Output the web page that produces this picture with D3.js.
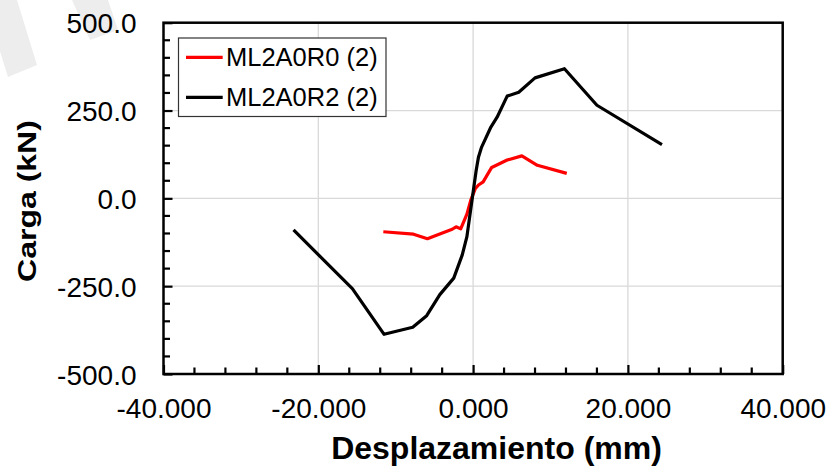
<!DOCTYPE html>
<html>
<head>
<meta charset="utf-8">
<script src="https://cdn.jsdelivr.net/npm/d3@7"></script>
<style>
  html, body { margin: 0; padding: 0; background: #fff; }
  svg { display: block; font-family: "Liberation Sans", Arial, sans-serif; }
</style>
</head>
<body>
<svg id="chart" width="831" height="466"></svg>
<script>
// Load–displacement curves (displacement in mm, load in kN)
const seriesNames = ["ML2A0R0 (2)", "ML2A0R2 (2)"];
const seriesColors = ["#ff0000", "#000000"];

const r0Disp = [-11.6, -7.7, -5.9, -3.8, -2.7, -2.2, -1.6, -0.8, -0.3, 0.3, 0.7, 1.3, 2.4, 4.4, 6.3, 8.3, 12.1];
const r0Load = [-95, -102, -115, -97, -88, -81, -87, -45, -5, 28, 38, 47, 88, 109, 121, 94, 71];

const r2Disp = [-23.2, -15.6, -11.5, -7.8, -6.0, -4.3, -2.5, -1.4, -0.8, 0.4, 0.7, 1.1, 2.3, 3.1, 4.4, 5.9, 8.0, 11.8, 16.0, 24.4];
const r2Load = [-90, -257, -387, -367, -334, -274, -227, -161, -109, 80, 118, 146, 203, 231, 291, 302, 343, 369, 265, 153];

const xTickValues = [-40, -20, 0, 20, 40];
const yTickValues = [-500, -250, 0, 250, 500];
const xMinorStep = 4;
const yMinorStep = 50;

const xTitle = "Desplazamiento (mm)";
const yTitle = "Carga (kN)";

const svg = d3.select("#chart");
const plot = { left: 163.5, right: 782.7, top: 22.7, bottom: 374 };

const x = d3.scaleLinear().domain([-40, 40]).range([plot.left, plot.right]);
const y = d3.scaleLinear().domain([-500, 500]).range([plot.bottom, plot.top]);

// faint background stripes
const stripes = [
  [[-16, 0], [17, 0], [37, 65], [8, 77]],
  [[72, 0], [108, 0], [118, 30], [90, 40]]
];
svg.append("g").selectAll("polygon").data(stripes).join("polygon")
  .attr("points", d => d.map(p => p.join(",")).join(" "))
  .attr("fill", "#ededed");

// gridlines
const grid = svg.append("g").attr("stroke", "#d9d9d9").attr("stroke-width", 1.3);
grid.selectAll("line.v").data(xTickValues.slice(1, -1)).join("line")
  .attr("x1", d => x(d)).attr("x2", d => x(d))
  .attr("y1", plot.top).attr("y2", plot.bottom);
grid.selectAll("line.h").data(yTickValues.slice(1, -1)).join("line")
  .attr("x1", plot.left).attr("x2", plot.right)
  .attr("y1", d => y(d)).attr("y2", d => y(d));

// data lines
const series = [
  { name: seriesNames[0], color: seriesColors[0], pts: r0Disp.map((d, i) => [d, r0Load[i]]) },
  { name: seriesNames[1], color: seriesColors[1], pts: r2Disp.map((d, i) => [d, r2Load[i]]) }
];
const line = d3.line().x(d => x(d[0])).y(d => y(d[1]));
svg.append("g").selectAll("path").data(series).join("path")
  .attr("d", d => line(d.pts))
  .attr("fill", "none")
  .attr("stroke", d => d.color)
  .attr("stroke-width", 3.2)
  .attr("stroke-linejoin", "round");

// axes with inward ticks
const xMinor = d3.range(-40, 40.001, xMinorStep).filter(v => v % 20 !== 0);
const yMinor = d3.range(-500, 500.001, yMinorStep).filter(v => v % 250 !== 0);

const xAxis = d3.axisBottom(x).tickValues(xTickValues).tickSize(-9).tickPadding(0)
  .tickFormat(d3.format(".3f"));
const xAxisG = svg.append("g").attr("transform", `translate(0,${plot.bottom})`).call(xAxis);
xAxisG.select(".domain").remove();
xAxisG.selectAll(".tick line").attr("stroke", "#000").attr("stroke-width", 2.2);
xAxisG.selectAll(".tick text")
  .attr("y", 44.3).attr("dy", null)
  .attr("font-size", 28).attr("fill", "#000")
  .attr("font-family", "Liberation Sans, Arial, sans-serif")
  .text(d => d3.format(".3f")(d).replace("−", "-"));
svg.append("g").selectAll("line").data(xMinor).join("line")
  .attr("x1", d => x(d)).attr("x2", d => x(d))
  .attr("y1", plot.bottom).attr("y2", plot.bottom - 6.5)
  .attr("stroke", "#000").attr("stroke-width", 2.2);

const yAxis = d3.axisLeft(y).tickValues(yTickValues).tickSize(-9).tickPadding(0)
  .tickFormat(d3.format(".1f"));
const yAxisG = svg.append("g").attr("transform", `translate(${plot.left},0)`).call(yAxis);
yAxisG.select(".domain").remove();
yAxisG.selectAll(".tick line").attr("stroke", "#000").attr("stroke-width", 2.2);
yAxisG.selectAll(".tick text")
  .attr("x", -27).attr("dy", "0.36em")
  .attr("font-size", 28).attr("fill", "#000")
  .attr("font-family", "Liberation Sans, Arial, sans-serif")
  .text(d => d3.format(".1f")(d).replace("−", "-"));
svg.append("g").selectAll("line").data(yMinor).join("line")
  .attr("x1", plot.left).attr("x2", plot.left + 6.5)
  .attr("y1", d => y(d)).attr("y2", d => y(d))
  .attr("stroke", "#000").attr("stroke-width", 2.2);

// plot frame
svg.append("rect")
  .attr("x", plot.left).attr("y", plot.top)
  .attr("width", plot.right - plot.left).attr("height", plot.bottom - plot.top)
  .attr("fill", "none").attr("stroke", "#000").attr("stroke-width", 2.5);

// axis titles
svg.append("text")
  .attr("x", 496.5).attr("y", 459)
  .attr("text-anchor", "middle")
  .attr("font-size", 32).attr("font-weight", "bold").attr("fill", "#000")
  .text(xTitle);
svg.append("text")
  .attr("transform", "translate(36,201) rotate(-90) scale(1,0.8)")
  .attr("text-anchor", "middle")
  .attr("font-size", 32).attr("font-weight", "bold").attr("fill", "#000")
  .text(yTitle);

// legend
const legend = svg.append("g");
legend.append("rect")
  .attr("x", 178.5).attr("y", 38).attr("width", 207.5).attr("height", 78.5)
  .attr("fill", "#fff").attr("stroke", "#333").attr("stroke-width", 1.2);
const items = legend.selectAll("g.item").data(series).join("g")
  .attr("transform", (d, i) => `translate(0,${57.3 + i * 40})`);
items.append("line")
  .attr("x1", 186).attr("x2", 222.7).attr("y1", 0).attr("y2", 0)
  .attr("stroke", d => d.color).attr("stroke-width", 3.2);
items.append("text")
  .attr("x", 226).attr("y", 0).attr("dy", "0.36em")
  .attr("font-size", 25.5).attr("fill", "#000")
  .text(d => d.name);
</script>
</body>
</html>
